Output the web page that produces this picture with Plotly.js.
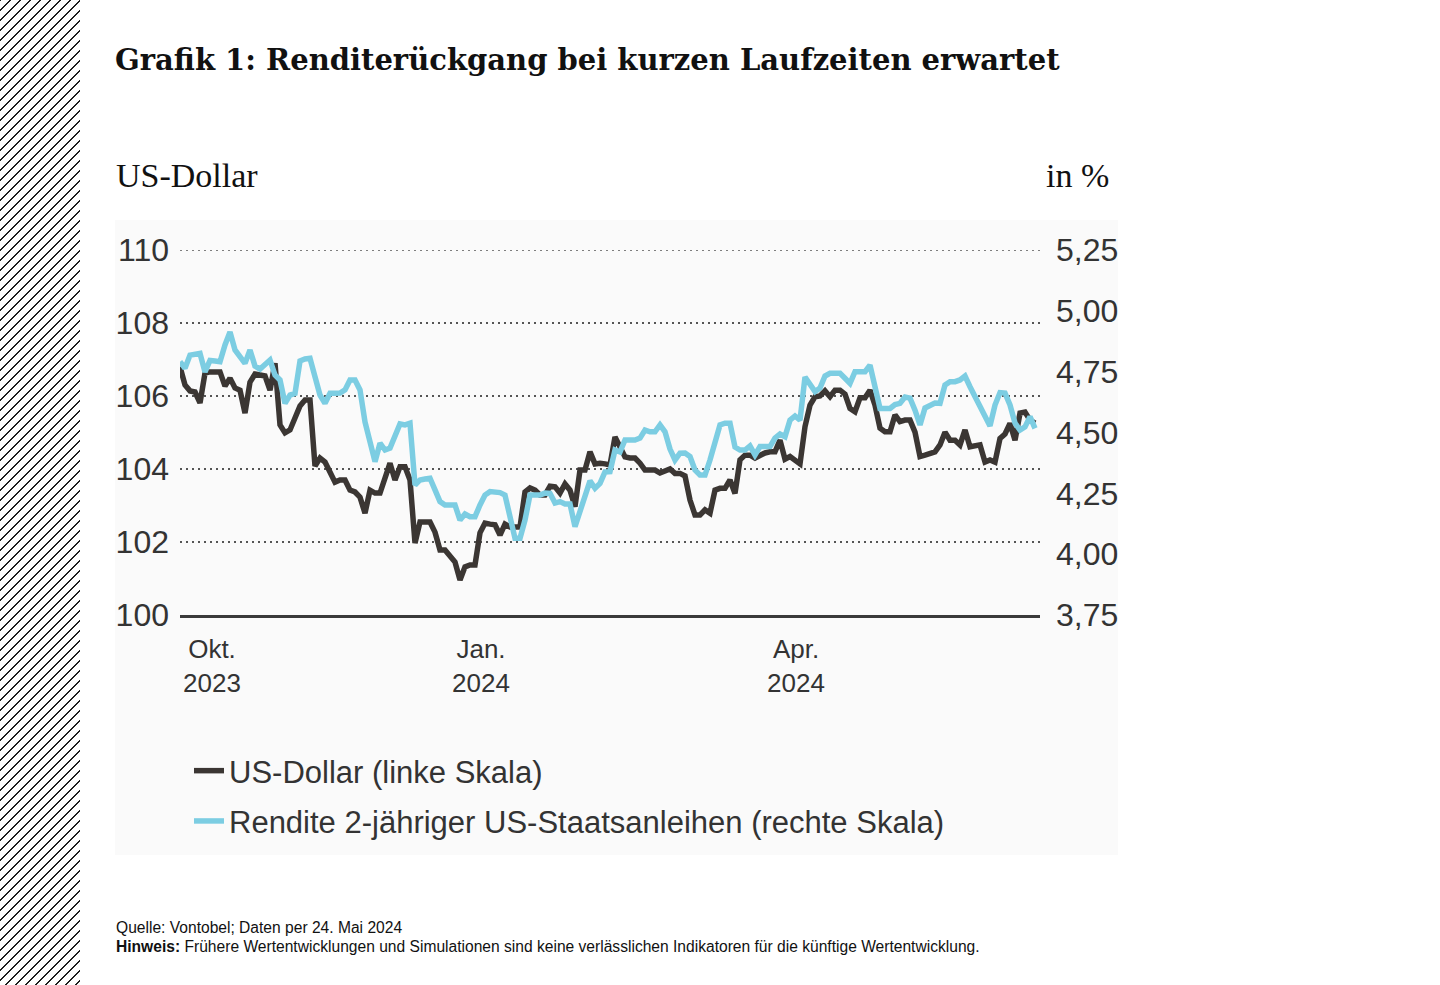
<!DOCTYPE html>
<html>
<head>
<meta charset="utf-8">
<script src="https://cdn.plot.ly/plotly-3.0.1.min.js"></script>
<style>
  html, body { margin: 0; padding: 0; background: #ffffff; }
  #hatch { position: absolute; left: 0; top: 0; width: 80px; height: 985px;
    background: repeating-linear-gradient(135deg, #1e1e1e 0px, #1e1e1e 1.3px, #ffffff 1.3px, #ffffff 7.07px); }
  #chart { position: absolute; left: 0; top: 0; width: 1440px; height: 985px; }
</style>
</head>
<body>
<div id="hatch"></div>
<div id="chart"></div>
<script>
// US-Dollar index (left scale), one value per observation
const usd = [
106.80, 106.30, 106.14, 106.11, 105.81, 106.63, 106.66, 106.66, 106.66, 106.27,
106.49, 106.22, 106.16, 105.53, 106.38, 106.60, 106.58, 106.55, 106.16, 106.90,
105.21, 104.99, 105.07, 105.42, 105.73, 105.89, 105.89, 104.08, 104.30, 104.19,
103.89, 103.64, 103.70, 103.70, 103.42, 103.37, 103.23, 102.79, 103.42, 103.34,
103.34, 103.75, 104.16, 103.70, 104.06, 104.06, 103.70, 101.97, 102.55, 102.55,
102.55, 102.27, 101.78, 101.78, 101.64, 101.45, 100.96, 101.32, 101.37, 101.37,
102.25, 102.52, 102.49, 102.47, 102.19, 102.49, 102.41, 102.41, 102.41, 103.37,
103.48, 103.42, 103.29, 103.29, 103.53, 103.51, 103.34, 103.59, 103.42, 102.97,
103.97, 103.97, 104.47, 104.14, 104.16, 104.14, 104.11, 104.88, 104.63, 104.33,
104.30, 104.30, 104.16, 103.97, 103.97, 103.97, 103.89, 103.93, 104.00, 103.88,
103.88, 103.81, 103.15, 102.74, 102.74, 102.88, 102.79, 103.42, 103.47, 103.47,
103.70, 103.33, 104.25, 104.38, 104.38, 104.30, 104.38, 104.44, 104.47, 104.47,
104.79, 104.27, 104.34, 104.25, 104.14, 105.16, 105.75, 105.98, 106.00, 106.14,
105.98, 106.16, 106.16, 106.05, 105.66, 105.57, 105.95, 105.95, 106.16, 105.75,
105.12, 105.02, 105.02, 105.48, 105.30, 105.34, 105.34, 105.01, 104.34, 104.38,
104.41, 104.47, 104.66, 105.01, 104.79, 104.79, 104.66, 105.07, 104.61, 104.63,
104.66, 104.19, 104.25, 104.19, 104.84, 104.96, 105.25, 104.79, 105.53, 105.56,
105.34, 105.26
];

// Yield of 2-year US Treasuries in % (right scale)
const yield2y = [
4.791, 4.764, 4.818, 4.823, 4.825, 4.749, 4.796, 4.794, 4.791, 4.860,
4.913, 4.839, 4.811, 4.784, 4.839, 4.773, 4.761, 4.777, 4.798, 4.736,
4.716, 4.620, 4.654, 4.661, 4.794, 4.802, 4.805, 4.729, 4.654, 4.620,
4.661, 4.661, 4.662, 4.675, 4.716, 4.716, 4.675, 4.543, 4.469, 4.380,
4.456, 4.428, 4.436, 4.490, 4.535, 4.531, 4.538, 4.284, 4.305, 4.309,
4.312, 4.264, 4.216, 4.202, 4.202, 4.202, 4.140, 4.165, 4.154, 4.154,
4.202, 4.243, 4.257, 4.257, 4.253, 4.243, 4.140, 4.065, 4.065, 4.140,
4.243, 4.243, 4.243, 4.251, 4.250, 4.210, 4.216, 4.206, 4.206, 4.113,
4.173, 4.243, 4.301, 4.271, 4.291, 4.338, 4.339, 4.428, 4.420, 4.469,
4.469, 4.469, 4.477, 4.510, 4.503, 4.503, 4.531, 4.503, 4.432, 4.387,
4.415, 4.416, 4.401, 4.346, 4.325, 4.325, 4.387, 4.456, 4.531, 4.538,
4.538, 4.440, 4.428, 4.428, 4.445, 4.408, 4.442, 4.442, 4.442, 4.477,
4.494, 4.483, 4.551, 4.568, 4.551, 4.728, 4.699, 4.668, 4.683, 4.732,
4.743, 4.743, 4.743, 4.723, 4.702, 4.750, 4.750, 4.750, 4.777, 4.683,
4.599, 4.599, 4.599, 4.615, 4.620, 4.646, 4.641, 4.592, 4.531, 4.601,
4.609, 4.621, 4.620, 4.695, 4.709, 4.709, 4.716, 4.732, 4.688, 4.647,
4.613, 4.560, 4.527, 4.613, 4.664, 4.662, 4.613, 4.539, 4.510, 4.523,
4.565, 4.517
];

// X-axis tick labels and the observation index under which each is shown
const tickLabels = ["Okt.<br>2023", "Jan.<br>2024", "Apr.<br>2024"];
const tickIndex = [6.4, 60.2, 123.2];

const seriesNames = ["US-Dollar (linke Skala)", "Rendite 2-jähriger US-Staatsanleihen (rechte Skala)"];

// ---- layout helpers (pixel -> paper coordinates) ----
const L = 180, R = 1040, T = 250, B = 615;
const px = v => (v - L) / (R - L);
const py = v => (B - v) / (B - T);

const sans = "Liberation Sans, Arial, sans-serif";
const serif = "Liberation Serif, Times New Roman, serif";
const gridStyle = { color: "#555555", width: 1.5, dash: "2px,4px" };

const traces = [
  { y: usd, type: "scatter", mode: "lines", name: seriesNames[0], legendgroup: "a",
    line: { color: "#3b3633", width: 5.5 }, yaxis: "y" },
  { y: yield2y, type: "scatter", mode: "lines", name: seriesNames[1], legendgroup: "b",
    line: { color: "#7ccde2", width: 5.5 }, yaxis: "y2" }
];

const layout = {
  width: 1440, height: 985,
  margin: { l: L, r: 1440 - R, t: T, b: 985 - B, pad: 0 },
  paper_bgcolor: "rgba(0,0,0,0)",
  plot_bgcolor: "rgba(0,0,0,0)",
  separators: ",.",
  showlegend: true,
  hovermode: false,
  title: {
    text: "Grafik 1: Renditerückgang bei kurzen Laufzeiten erwartet",
    font: { family: "DejaVu Serif, serif", size: 29, color: "#111111", weight: 700 },
    x: 115 / 1440, xref: "container", xanchor: "left",
    y: 1 - 60 / 985, yref: "container", yanchor: "middle"
  },
  xaxis: {
    range: [0, 172],
    showgrid: false, zeroline: false,
    showline: true, linecolor: "#3a3a3a", linewidth: 2.5,
    ticks: "", tickvals: tickIndex, ticktext: tickLabels,
    tickfont: { family: sans, size: 26, color: "#333333" },
    ticklabelstandoff: 9
  },
  yaxis: {
    range: [100, 110], tick0: 100, dtick: 2,
    showgrid: true, gridcolor: gridStyle.color, gridwidth: gridStyle.width, griddash: gridStyle.dash,
    zeroline: false, showline: false, ticks: "",
    tickfont: { family: sans, size: 32, color: "#333333" },
    ticklabelstandoff: 10
  },
  yaxis2: {
    overlaying: "y", side: "right",
    range: [3.75, 5.25], tick0: 3.75, dtick: 0.25, tickformat: ".2f",
    showgrid: false, zeroline: false, showline: false, ticks: "",
    tickfont: { family: sans, size: 32, color: "#333333" },
    ticklabelstandoff: 15
  },
  legend: {
    x: px(189), y: py(744), xanchor: "left", yanchor: "top",
    font: { family: sans, size: 31, color: "#333333" },
    bgcolor: "rgba(0,0,0,0)", itemwidth: 30, traceorder: "grouped",
    tracegroupgap: 7
  },
  shapes: [
    { type: "rect", xref: "paper", yref: "paper", layer: "below",
      x0: px(115), x1: px(1118), y0: py(855), y1: py(220),
      fillcolor: "#fafafa", line: { width: 0 } },
    // top gridline at 110 (sits on the plot edge, so it is drawn explicitly)
    { type: "line", xref: "paper", yref: "y", layer: "below",
      x0: 0, x1: 1, y0: 110, y1: 110,
      line: { color: gridStyle.color, width: gridStyle.width, dash: gridStyle.dash } }
  ],
  annotations: [
    { text: "US-Dollar", xref: "paper", yref: "paper", x: px(114), y: py(175),
      xanchor: "left", yanchor: "middle", showarrow: false,
      font: { family: serif, size: 34, color: "#111111" } },
    { text: "in %", xref: "paper", yref: "paper", x: px(1111), y: py(175),
      xanchor: "right", yanchor: "middle", showarrow: false,
      font: { family: serif, size: 34, color: "#111111" } },
    { text: "Quelle: Vontobel; Daten per 24. Mai 2024", xref: "paper", yref: "paper",
      x: px(114), y: py(927), xanchor: "left", yanchor: "middle", showarrow: false,
      font: { family: sans, size: 15.6, color: "#111111" } },
    { text: "<b>Hinweis:</b> Frühere Wertentwicklungen und Simulationen sind keine verlässlichen Indikatoren für die künftige Wertentwicklung.",
      xref: "paper", yref: "paper",
      x: px(114), y: py(946), xanchor: "left", yanchor: "middle", showarrow: false,
      font: { family: sans, size: 15.6, color: "#111111" } }
  ]
};

Plotly.newPlot("chart", traces, layout, { displayModeBar: false, staticPlot: true });
</script>
</body>
</html>
